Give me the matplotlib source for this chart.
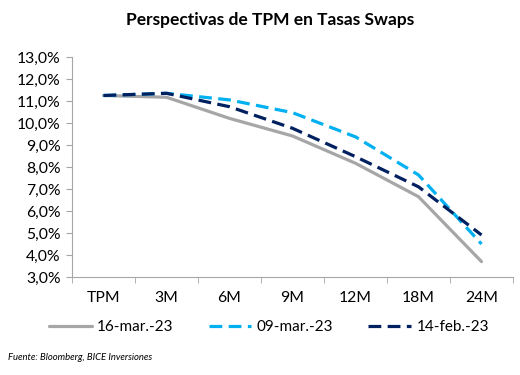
import matplotlib
matplotlib.use("Agg")
import matplotlib.pyplot as plt
from matplotlib.ticker import FixedLocator, FuncFormatter

categories = ["TPM", "3M", "6M", "9M", "12M", "18M", "24M"]
s_16mar = [11.25, 11.17, 10.21, 9.41, 8.17, 6.65, 3.70]
s_09mar = [11.25, 11.35, 11.05, 10.47, 9.37, 7.64, 4.50]
s_14feb = [11.25, 11.35, 10.74, 9.76, 8.47, 7.10, 4.91]
labels = ["16-mar.-23", "09-mar.-23", "14-feb.-23"]
yticks = [3, 4, 5, 6, 7, 8, 9, 10, 11, 12, 13]

plt.rcParams['font.family'] = ['Lato', 'DejaVu Sans']

fig = plt.figure(figsize=(5.2, 3.75), dpi=100)
ax = fig.add_axes([72/520, 1-277/375, (513-72)/520, (277-57)/375])

x = list(range(len(categories)))
ax.plot(x, s_16mar, color="#A6A6A6", lw=2.3, label=labels[0], solid_capstyle="round")
ax.plot(x, s_09mar, color="#00B0F0", lw=2.3, dashes=(4, 2), label=labels[1])
ax.plot(x, s_14feb, color="#002060", lw=2.3, dashes=(4, 2), label=labels[2])

ax.set_xlim(-0.5, len(categories) - 0.5)
ax.set_ylim(3, 13)
ax.set_yticks(yticks)
ax.yaxis.set_major_formatter(FuncFormatter(lambda v, p: f"{v:.1f}%".replace(".", ",")))
ax.set_xticks(x)
ax.set_xticklabels(categories)
ax.xaxis.set_minor_locator(FixedLocator([i + 0.5 for i in range(-1, len(categories))]))
ax.tick_params(axis="x", which="major", length=0, pad=10, labelsize=11.3)
ax.tick_params(axis="x", which="minor", length=4, color="#A6A6A6", direction="out")
ax.tick_params(axis="y", length=4, color="#A6A6A6", labelsize=11.3, pad=4)
for s in ["top", "right"]:
    ax.spines[s].set_visible(False)
for s in ["left", "bottom"]:
    ax.spines[s].set_color("#A6A6A6")

fig.text(0.52, 1-20/375, "Perspectivas de TPM en Tasas Swaps", ha="center", va="center",
         fontsize=12.5, fontweight="bold")
fig.legend(loc="center", bbox_to_anchor=(269/520, 1-327/375), ncol=3, frameon=False,
           fontsize=11, handlelength=2.8, columnspacing=2.3, handletextpad=0.35)
fig.text(8/520, 1-358/375, "Fuente: Bloomberg, BICE Inversiones", fontsize=6.8,
         style="italic", va="center")

fig.savefig("out.png", dpi=100)
